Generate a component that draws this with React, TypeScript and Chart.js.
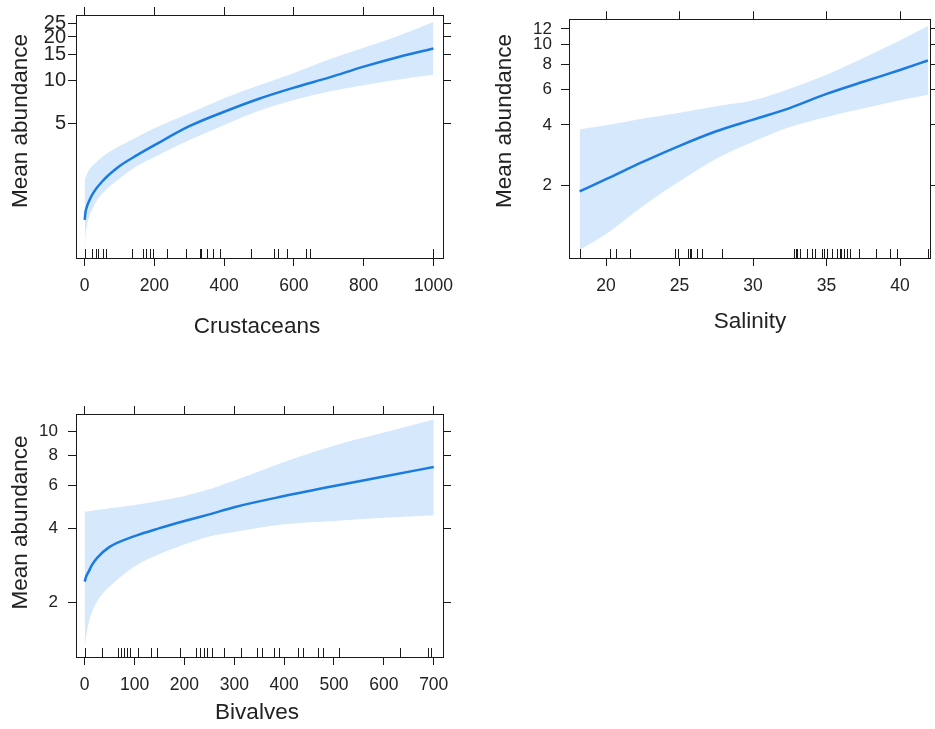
import React, { useEffect, useRef } from 'react';
import { Chart, registerables } from 'chart.js';

Chart.register(...registerables);

// ---------- Data ----------
const crustX = [0, 2, 5, 10, 25, 50, 100, 150, 200, 300, 400, 500, 600, 700, 800, 900, 1000];
const crustMean = [1.05, 1.18, 1.27, 1.38, 1.63, 1.95, 2.5, 2.98, 3.5, 4.75, 6.0, 7.4, 8.85, 10.4, 12.4, 14.5, 16.6];
const crustLow = [0.6, 0.8, 0.92, 1.05, 1.3, 1.6, 2.05, 2.5, 2.9, 3.8, 4.85, 6.1, 7.25, 8.3, 9.2, 10.1, 10.9];
const crustHigh = [2.0, 2.08, 2.15, 2.3, 2.55, 2.9, 3.45, 4.0, 4.6, 5.85, 7.45, 9.2, 11.2, 13.9, 16.8, 20.4, 25.5];
const crustRug = [0, 2, 22, 31, 39, 51, 61, 135, 166, 176, 187, 195, 235, 291, 330, 334, 351, 367, 388, 478, 544, 554, 579, 634, 646, 1000];
const crustXTicks = [0, 200, 400, 600, 800, 1000];
const crustYTicks = [5, 10, 15, 20, 25];

const salX = [18.2, 20, 22.5, 25, 27.5, 30, 32.5, 35, 37.5, 40, 41.9];
const salMean = [1.87, 2.15, 2.62, 3.15, 3.72, 4.25, 4.85, 5.7, 6.55, 7.5, 8.36];
const salLow = [0.96, 1.15, 1.58, 2.1, 2.72, 3.3, 3.9, 4.38, 4.82, 5.3, 5.65];
const salHigh = [3.8, 3.98, 4.3, 4.6, 4.95, 5.3, 6.05, 7.1, 8.6, 10.5, 12.4];
const salRug = [18.2, 20.3, 20.7, 21.6, 24.7, 24.9, 25.6, 25.7, 25.8, 26.2, 26.5, 27.9, 32.8, 32.9, 33.0, 33.2, 33.7, 34.0, 34.2, 34.7, 34.8, 35.0, 35.4, 35.7, 35.9, 36.0, 36.2, 36.4, 36.6, 37.2, 38.4, 39.3, 39.8, 41.9];
const salXTicks = [20, 25, 30, 35, 40];
const salYTicks = [2, 4, 6, 8, 10, 12];

const bivX = [0, 3, 8, 15, 25, 50, 100, 150, 200, 250, 300, 400, 500, 600, 700];
const bivMean = [2.43, 2.55, 2.67, 2.85, 3.04, 3.37, 3.73, 4.02, 4.3, 4.58, 4.9, 5.44, 5.98, 6.54, 7.16];
const bivLow = [1.3, 1.45, 1.65, 1.83, 2.02, 2.32, 2.8, 3.15, 3.45, 3.72, 3.88, 4.17, 4.3, 4.43, 4.54];
const bivHigh = [4.7, 4.7, 4.72, 4.74, 4.77, 4.85, 5.0, 5.2, 5.45, 5.8, 6.3, 7.5, 8.75, 9.9, 11.2];
const bivRug = [0, 34, 66, 72, 79, 84, 91, 107, 133, 146, 191, 223, 232, 239, 246, 256, 279, 313, 345, 355, 379, 390, 427, 437, 468, 478, 510, 633, 689, 695];
const bivXTicks = [0, 100, 200, 300, 400, 500, 600, 700];
const bivYTicks = [2, 4, 6, 8, 10];

// ---------- Styling ----------
const FONT = '"Liberation Sans", Arial, Helvetica, sans-serif';
const AXIS = '#1a1a1a';
const TEXT = '#222222';
const LINE = '#1a7be0';
const BAND = '#d6e8fb';

type Spec = {
  left: number; top: number; width: number; height: number;
  xs: number[]; mean: number[]; low: number[]; high: number[]; rug: number[];
  xTicks: number[]; yTicks: number[];
  xMin: number; xMax: number; yMin: number; yMax: number;
  leftW: number; rightW: number; topH: number; bottomH: number;
  yLabelSize: number; yLabelPad: number;
  xTitle: string; xTitlePos: [number, number];
  yTitle: string; yTitlePos: [number, number];
};

const specs: Spec[] = [
  {
    left: 0, top: 0, width: 470, height: 350,
    xs: crustX, mean: crustMean, low: crustLow, high: crustHigh, rug: crustRug,
    xTicks: crustXTicks, yTicks: crustYTicks,
    xMin: -25, xMax: 1027.5, yMin: 0.569, yMax: 28.5,
    leftW: 76, rightW: 27, topH: 15, bottomH: 92,
    yLabelSize: 20, yLabelPad: 2,
    xTitle: 'Crustaceans', xTitlePos: [257, 327],
    yTitle: 'Mean abundance', yTitlePos: [21, 121],
  },
  {
    left: 470, top: 0, width: 465, height: 350,
    xs: salX, mean: salMean, low: salLow, high: salHigh, rug: salRug,
    xTicks: salXTicks, yTicks: salYTicks,
    xMin: 17.48, xMax: 42.04, yMin: 0.873, yMax: 13.4,
    leftW: 99, rightW: 5, topH: 15, bottomH: 92,
    yLabelSize: 17, yLabelPad: 9,
    xTitle: 'Salinity', xTitlePos: [280, 322],
    yTitle: 'Mean abundance', yTitlePos: [35, 121],
  },
  {
    left: 0, top: 380, width: 470, height: 349,
    xs: bivX, mean: bivMean, low: bivLow, high: bivHigh, rug: bivRug,
    xTicks: bivXTicks, yTicks: bivYTicks,
    xMin: -17.4, xMax: 718.6, yMin: 1.194, yMax: 11.79,
    leftW: 76, rightW: 27, topH: 34, bottomH: 72,
    yLabelSize: 17, yLabelPad: 10,
    xTitle: 'Bivalves', xTitlePos: [257, 333],
    yTitle: 'Mean abundance', yTitlePos: [21, 142.5],
  },
];

function makeDecor(spec: Spec) {
  return {
    id: 'decor',
    afterDatasetsDraw(chart: any) {
      const { ctx, chartArea, scales } = chart;
      const xs = scales.x;
      ctx.save();
      ctx.strokeStyle = AXIS;
      ctx.lineWidth = 1;
      ctx.beginPath();
      for (const v of spec.rug) {
        const px = Math.round(xs.getPixelForValue(v)) + 0.5;
        ctx.moveTo(px, chartArea.bottom);
        ctx.lineTo(px, chartArea.bottom - 9);
      }
      ctx.stroke();
      ctx.restore();
    },
    afterDraw(chart: any) {
      const { ctx } = chart;
      ctx.save();
      ctx.fillStyle = TEXT;
      ctx.font = `22.5px ${FONT}`;
      ctx.textAlign = 'center';
      ctx.textBaseline = 'middle';
      ctx.fillText(spec.xTitle, spec.xTitlePos[0], spec.xTitlePos[1]);
      ctx.translate(spec.yTitlePos[0], spec.yTitlePos[1]);
      ctx.rotate(-Math.PI / 2);
      ctx.fillText(spec.yTitle, 0, 0);
      ctx.restore();
    },
  };
}

function buildConfig(spec: Spec): any {
  const grid = { display: true, drawOnChartArea: false, drawTicks: true, tickLength: 8, color: AXIS, lineWidth: 1 };
  const border = { display: true, color: AXIS, width: 1 };
  const setX = (s: any) => { s.ticks = spec.xTicks.map((value) => ({ value })); };
  const setY = (s: any) => { s.ticks = spec.yTicks.map((value) => ({ value })); };
  const toPts = (ys: number[]) => spec.xs.map((x, i) => ({ x, y: ys[i] }));
  return {
    type: 'line',
    data: {
      datasets: [
        { data: toPts(spec.mean), borderColor: LINE, borderWidth: 2.5, pointRadius: 0, fill: false, cubicInterpolationMode: 'monotone' },
        { data: toPts(spec.low), borderColor: 'rgba(0,0,0,0)', borderWidth: 0, pointRadius: 0, fill: false, cubicInterpolationMode: 'monotone' },
        { data: toPts(spec.high), borderColor: 'rgba(0,0,0,0)', borderWidth: 0, pointRadius: 0, fill: '-1', backgroundColor: BAND, cubicInterpolationMode: 'monotone' },
      ],
    },
    options: {
      animation: false,
      responsive: false,
      events: [],
      layout: { padding: 0, autoPadding: false },
      plugins: { legend: { display: false }, tooltip: { enabled: false }, title: { display: false } },
      scales: {
        x: {
          type: 'linear', position: 'bottom', min: spec.xMin, max: spec.xMax,
          grid, border,
          ticks: { font: { family: FONT, size: 17.5 }, color: TEXT, padding: 10, autoSkip: false, maxRotation: 0, callback: (v: number) => String(v) },
          afterBuildTicks: setX,
          afterFit: (s: any) => { s.height = spec.bottomH; },
        },
        xTop: {
          type: 'linear', axis: 'x', position: 'top', min: spec.xMin, max: spec.xMax,
          grid, border,
          ticks: { display: false },
          afterBuildTicks: setX,
          afterFit: (s: any) => { s.height = spec.topH; },
        },
        y: {
          type: 'logarithmic', position: 'left', min: spec.yMin, max: spec.yMax,
          grid, border,
          ticks: { font: { family: FONT, size: spec.yLabelSize }, color: TEXT, padding: spec.yLabelPad, autoSkip: false, callback: (v: number) => String(v) },
          afterBuildTicks: setY,
          afterFit: (s: any) => { s.width = spec.leftW; },
        },
        yRight: {
          type: 'logarithmic', axis: 'y', position: 'right', min: spec.yMin, max: spec.yMax,
          grid, border,
          ticks: { display: false },
          afterBuildTicks: setY,
          afterFit: (s: any) => { s.width = spec.rightW; },
        },
      },
    },
    plugins: [makeDecor(spec)],
  };
}

function Panel({ spec }: { spec: Spec }) {
  const ref = useRef<HTMLCanvasElement | null>(null);
  useEffect(() => {
    if (!ref.current) return;
    const chart = new Chart(ref.current, buildConfig(spec));
    return () => chart.destroy();
  }, [spec]);
  return (
    <canvas
      ref={ref}
      width={spec.width}
      height={spec.height}
      style={{ position: 'absolute', left: spec.left, top: spec.top, width: spec.width, height: spec.height }}
    />
  );
}

export default function App() {
  return (
    <div style={{ position: 'absolute', left: 0, top: 0, width: 935, height: 729, background: '#ffffff', overflow: 'hidden' }}>
      {specs.map((s, i) => (
        <Panel key={i} spec={s} />
      ))}
    </div>
  );
}
